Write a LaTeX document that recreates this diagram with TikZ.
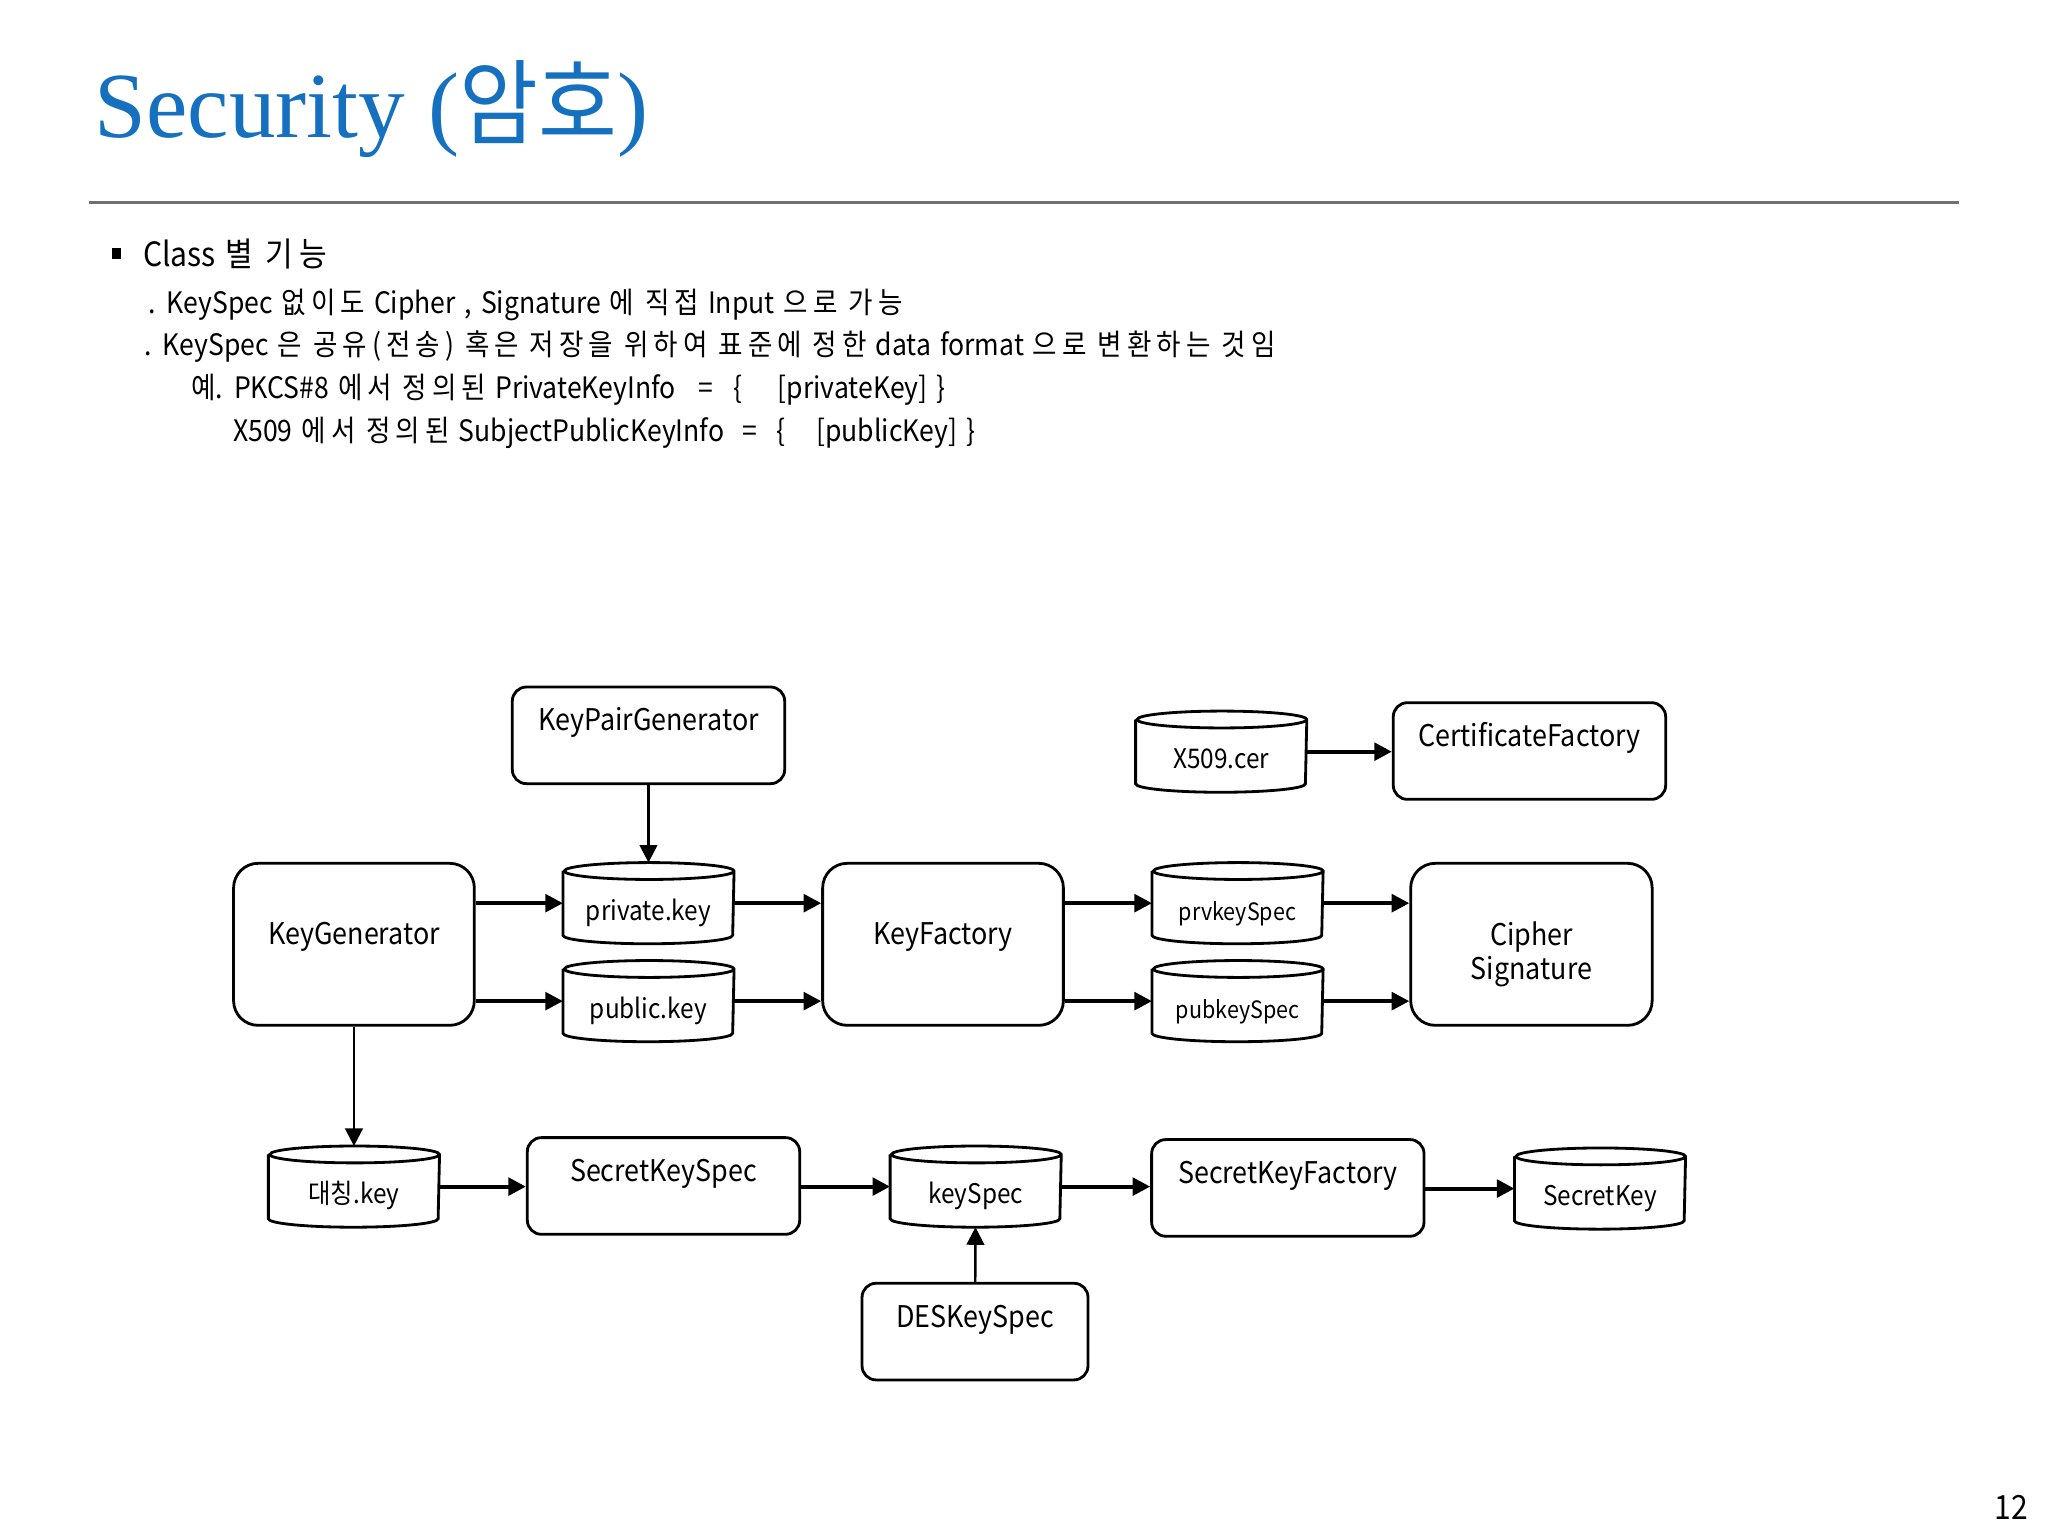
\documentclass[tikz,border=0pt]{standalone}
\usepackage{fontspec}
\setmainfont[FakeStretch=0.9,WordSpace=1.5]{Noto Sans CJK KR}
\newfontfamily\kr[FakeStretch=0.9,LetterSpace=17]{Noto Sans CJK KR}
\newfontfamily\krt[FakeStretch=0.92]{Noto Sans CJK KR}
\newfontfamily\titlefont{Liberation Serif}
\newcommand\K[1]{{\kr #1}}
\usetikzlibrary{shapes.geometric,arrows.meta}
\definecolor{titleblue}{RGB}{21,112,192}
\definecolor{rulegray}{RGB}{112,112,112}
\newcommand\drawcyl[1]{\draw[cylline] ([yshift=-2.4pt]#1.north west) -- ([yshift=2.4pt]#1.south west)
  arc[start angle=180,end angle=360,x radius=24.15pt,y radius=2.4pt]
  -- ([yshift=-2.4pt]#1.north east)
  arc[start angle=0,end angle=360,x radius=24.15pt,y radius=2.4pt];}
\begin{document}
\begin{tikzpicture}[x=0.013061cm,y=-0.013061cm,
  txt/.style={anchor=base west, inner sep=0pt, font=\fontsize{8.4pt}{10pt}\selectfont},
  box/.style={draw, rounded corners=4pt, line width=0.8pt, inner xsep=2pt, font=\fontsize{8.5pt}{9.7pt}\selectfont, align=center},
  topbox/.style={box, text height=12.5pt, text depth=15pt, inner ysep=0pt, minimum width=77.5pt},
  midbox/.style={box, rounded corners=7pt, text height=23pt, text depth=23.1pt, inner ysep=0pt, minimum width=68.5pt},
  cyl/.style={rectangle, minimum width=48.3pt, minimum height=22.7pt, text height=16.2pt, text depth=6.5pt, inner sep=0pt, font=\fontsize{7.7pt}{9pt}\selectfont},
  cylline/.style={line width=0.8pt},
  arr/.style={line width=1.1pt, -{Triangle[length=5pt,width=5pt]}},
  varr/.style={line width=0.7pt, -{Triangle[length=5pt,width=5pt]}}]
\useasboundingbox[fill=white] (0,0) rectangle (1568,1176);

% header
\node[anchor=base west, inner sep=0pt, font=\titlefont\fontsize{26.5pt}{30pt}\selectfont, text=titleblue] (title) at (72,105) {Security ({\krt 암호})};
\draw[rulegray, line width=0.75pt] (68,155) -- (1500,155);
\fill (86,190) rectangle (93,198);
\node[txt, font=\fontsize{9.5pt}{11pt}\selectfont] (l1) at (109,204) {Class \K{별 기능}};
\node[txt] (l2) at (113,240) {. KeySpec \K{없이도} Cipher , Signature \K{에 직접} Input \K{으로 가능}};
\node[txt] (l3) at (110,272) {. KeySpec \K{은 공유(전송) 혹은 저장을 위하여 표준에 정한} data format \K{으로 변환하는 것임}};
\node[txt] (l4) at (146,305) {\K{예}. PKCS\#8 \K{에서 정의된} PrivateKeyInfo\hspace{4pt} =\hspace{3pt} \{\hspace{10.2pt}[privateKey] \}};
\node[txt] (l5) at (178,338) {X509 \K{에서 정의된} SubjectPublicKeyInfo \ =\hspace{3pt} \{\hspace{8.8pt}[publicKey] \}};
\node[anchor=base east, inner sep=0pt, font=\fontsize{9.5pt}{11pt}\selectfont] (pg) at (1553,1163) {12};

% diagram nodes
\node[topbox] (kpg) at (496.5,563) {KeyPairGenerator};
\node[cyl] (x509) at (935,575.5) {X509.cer};
\node[topbox] (cf) at (1171,575) {CertificateFactory};
\node[midbox] (kg) at (271,723) {KeyGenerator};
\node[cyl] (pk) at (496.5,691.5) {private.key};
\node[cyl] (pub) at (496.5,766.5) {public.key};
\node[midbox] (kf) at (722,723) {KeyFactory};
\node[cyl, font=\fontsize{6.8pt}{8pt}\selectfont] (prv) at (947.5,691.5) {prvkeySpec};
\node[cyl, font=\fontsize{6.8pt}{8pt}\selectfont] (pubs) at (947.5,766.5) {pubkeySpec};
\node[box, rounded corners=7pt, minimum width=68.7pt, minimum height=46.1pt] (cs) at (1172.5,723) {\rule{0pt}{12.6pt}Cipher\\Signature};
\node[cyl] (sym) at (271,908.5) {대칭.key};
\node[topbox] (sks) at (508,908) {SecretKeySpec};
\node[cyl] (ks) at (747,908.5) {keySpec};
\node[topbox] (skf) at (986,909.5) {SecretKeyFactory};
\node[cyl] (sk) at (1225,910) {SecretKey};
\node[topbox, minimum width=64.3pt] (des) at (746.5,1019.5) {DESKeySpec};

\drawcyl{x509}
\drawcyl{pk}
\drawcyl{pub}
\drawcyl{prv}
\drawcyl{pubs}
\drawcyl{sym}
\drawcyl{ks}
\drawcyl{sk}

% connectors
\draw[arr] (x509) -- (x509 -| cf.west);
\draw[varr] (kpg) -- (pk);
\draw[arr] (kg.east |- pk) -- (pk);
\draw[arr] (kg.east |- pub) -- (pub);
\draw[arr] (pk) -- (pk -| kf.west);
\draw[arr] (pub) -- (pub -| kf.west);
\draw[arr] (kf.east |- prv) -- (prv);
\draw[arr] (kf.east |- pubs) -- (pubs);
\draw[arr] (prv) -- (prv -| cs.west);
\draw[arr] (pubs) -- (pubs -| cs.west);
\draw[varr] (kg) -- (sym);
\draw[arr] (sym) -- (sym -| sks.west);
\draw[arr] (sks.east |- ks) -- (ks);
\draw[arr] (ks) -- (ks -| skf.west);
\draw[arr] (skf.east |- sk) -- (sk);
\draw[varr] (des) -- (ks);
\end{tikzpicture}
\end{document}
